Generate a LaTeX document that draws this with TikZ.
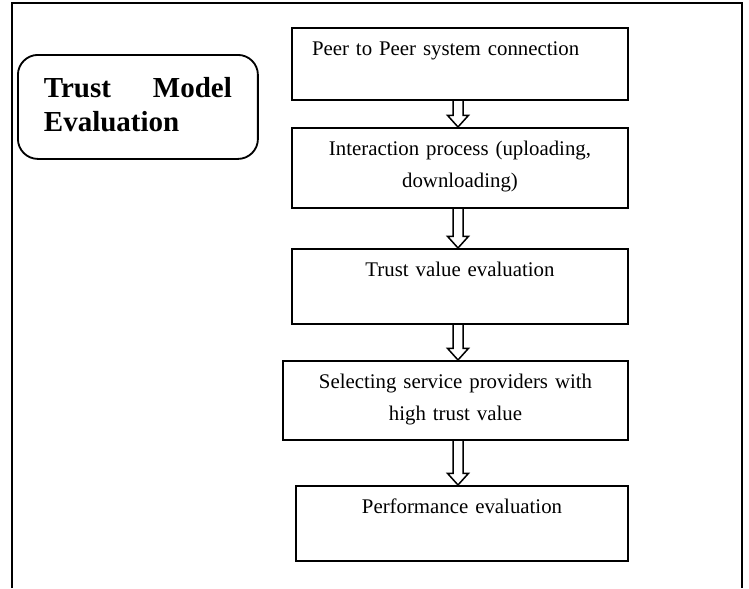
\documentclass[tikz,border=0pt]{standalone}
\usepackage{fontspec}
\setmainfont{Liberation Serif}
\usetikzlibrary{calc}

\begin{document}
\begin{tikzpicture}[x=0.6pt,y=-0.6pt,line width=1.1pt,
    box/.style={rectangle,draw,anchor=north,inner xsep=4.8pt,inner ysep=0pt,align=center,text height=16.8pt,font=\fontsize{12.5}{19}\selectfont},
    flow/.style={draw,line width=0.9pt,to path={let \p1=(\tikztostart.south -| spine), \p2=(\tikztotarget.north -| spine) in
        (\x1-3pt,\y1) -- (\x1-3pt,\y2+7pt) -- (\x1-6.3pt,\y2+7pt) -- (\x2,\y2) -- (\x1+6.3pt,\y2+7pt) -- (\x1+3pt,\y2+7pt) -- (\x1+3pt,\y1)}}]
        \useasboundingbox (0,0) rectangle (749,588);
        \draw[line width=1.4pt] (12,588) -- (12,3) -- (742,3) -- (742,588);
        \coordinate (spine) at (458,0);
        \node [draw, rounded corners=12pt, anchor=north west, inner xsep=15.6pt, inner ysep=0pt, text width=112.8pt, align=left, text height=25.8pt, text depth=36.6pt, font=\bfseries\fontsize{17.4}{20}\selectfont] (model) at (17,54) {\makebox[112.8pt][l]{Trust\hfill Model}\\Evaluation};
        \node [box, align=left, inner xsep=12pt, text width=177.6pt, text depth=26.4pt] (1) at (460,27) {Peer to Peer system connection};
        \node [box, text width=192pt, text depth=31.2pt] (2) at (460,127) {Interaction process (uploading,\\downloading)};
        \node [box, text width=192pt, text depth=28.2pt] (3) at (460,248) {Trust value evaluation};
        \node [box, text width=197.4pt, text depth=30.6pt] (4) at (455.5,360) {Selecting service providers with\\high trust value};
        \node [box, text width=189.6pt, text depth=28.2pt] (5) at (462,485) {Performance evaluation};
        \path
        (1) edge [flow] (2)
        (2) edge [flow] (3)
        (3) edge [flow] (4)
        (4) edge [flow] (5);
    \end{tikzpicture}
\end{document}
